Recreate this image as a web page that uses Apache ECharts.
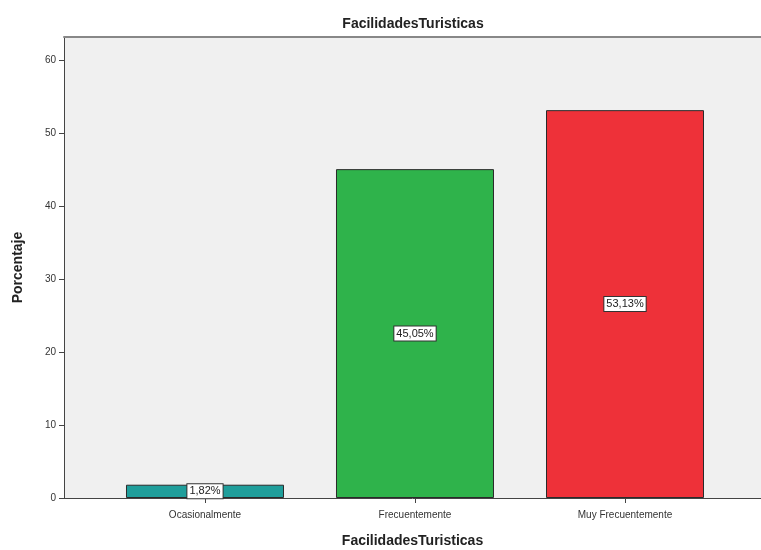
<!DOCTYPE html>
<html>
<head>
<meta charset="utf-8">
<script src="https://cdn.jsdelivr.net/npm/echarts@6/dist/echarts.min.js"></script>
<style>
  html, body { margin: 0; padding: 0; background: #fff; }
  #chart { width: 761px; height: 550px; }
</style>
</head>
<body>
<div id="chart"></div>
<script>
// datos del grafico
var categorias = ['Ocasionalmente', 'Frecuentemente', 'Muy Frecuentemente'];
var porcentajes = [1.82, 45.05, 53.13];
var colores = ['#1f9e9b', '#2fb34b', '#ee3139'];
var yTicks = [0, 10, 20, 30, 40, 50, 60];

var myChart = echarts.init(document.getElementById('chart'));

// las barras se colocan en x = 0,1,2 sobre un eje de valores
var puntos = porcentajes.map(function (v, i) {
  return { value: [i, v], itemStyle: { color: colores[i] } };
});
var posiciones = categorias.map(function (c, i) { return i; });

var option = {
  backgroundColor: '#ffffff',
  animation: false,
  title: {
    text: 'FacilidadesTuristicas',
    left: 408,
    textAlign: 'center',
    top: 12,
    textStyle: { fontFamily: 'Liberation Sans', fontSize: 14, fontWeight: 'bold', color: '#222' }
  },
  grid: {
    left: 64, right: 0, top: 37, bottom: 52,
    outerBoundsMode: 'none',
    containLabel: false,
    show: true, backgroundColor: '#f0f0f0', borderWidth: 0
  },
  xAxis: [{
    type: 'value',
    min: -0.6714,
    max: 2.6476,
    name: 'FacilidadesTuristicas',
    nameLocation: 'middle',
    nameGap: 36,
    nameTextStyle: { fontFamily: 'Liberation Sans', fontSize: 14, fontWeight: 'bold', color: '#222' },
    splitLine: { show: false },
    axisLine: { show: true, onZero: false, lineStyle: { color: '#444', width: 1 } },
    axisTick: { show: true, length: 5, customValues: posiciones, lineStyle: { color: '#444' } },
    axisLabel: {
      customValues: posiciones,
      margin: 12,
      fontFamily: 'Liberation Sans', fontSize: 10, color: '#333',
      formatter: function (v) { return categorias[Math.round(v)]; }
    }
  }, {
    type: 'value',
    position: 'top',
    min: -0.6714,
    max: 2.6476,
    splitLine: { show: false },
    axisLine: { show: true, onZero: false, lineStyle: { color: '#888', width: 2 } },
    axisTick: { show: false },
    axisLabel: { show: false }
  }],
  yAxis: {
    type: 'value',
    min: 0,
    max: 63.15,
    name: 'Porcentaje',
    nameLocation: 'middle',
    nameGap: 39,
    nameTextStyle: { fontFamily: 'Liberation Sans', fontSize: 14, fontWeight: 'bold', color: '#222' },
    splitLine: { show: false },
    axisLine: { show: true, onZero: false, lineStyle: { color: '#444', width: 1 } },
    axisTick: { show: true, length: 5, customValues: yTicks, lineStyle: { color: '#444' } },
    axisLabel: {
      customValues: yTicks,
      margin: 8,
      fontFamily: 'Liberation Sans', fontSize: 10, color: '#333'
    }
  },
  series: [{
    type: 'bar',
    xAxisIndex: 0,
    barWidth: 158,
    data: puntos,
    itemStyle: { borderColor: '#2a2a2a', borderWidth: 1 },
    label: {
      show: true,
      position: 'inside',
      fontFamily: 'Liberation Sans', fontSize: 11, color: '#222',
      backgroundColor: '#ffffff',
      borderColor: '#333',
      borderWidth: 1,
      padding: [2, 2, 1, 2],
      formatter: function (p) { return p.value[1].toFixed(2).replace('.', ',') + '%'; }
    }
  }]
};

myChart.setOption(option);
</script>
</body>
</html>
